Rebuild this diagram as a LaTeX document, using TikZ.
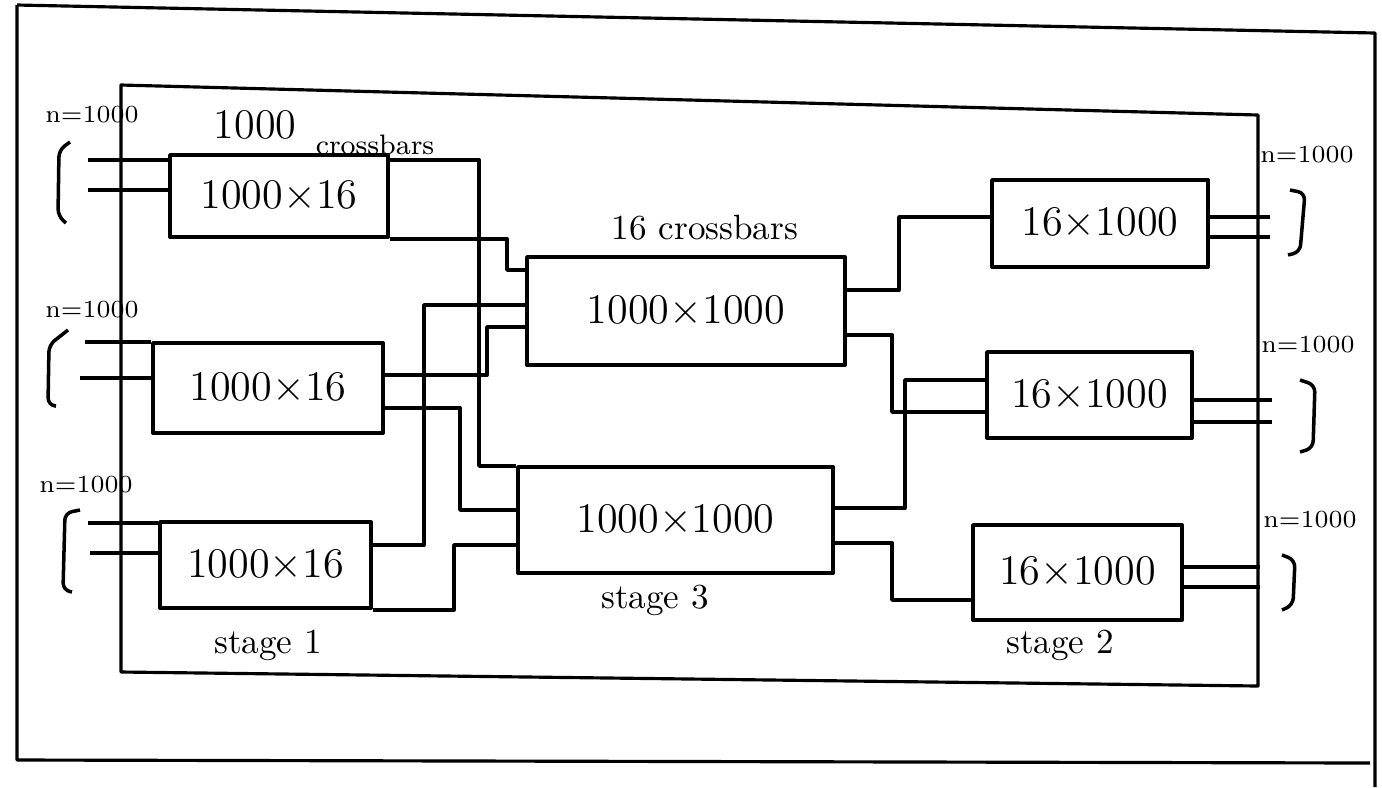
\documentclass[tikz,border=0pt]{standalone}
\usepackage{amsmath,amssymb}
\usepackage{xcolor}
\usepackage{tikz}
\usetikzlibrary{arrows.meta}

\tikzset{
  xbar/.style={draw,line width=1.1pt,inner sep=0pt,font=\large},
  wire/.style={line width=1pt},
  frame/.style={line width=0.9pt},
  nlab/.style={font=\scriptsize,inner sep=1pt},
}

\begin{document}
\begin{tikzpicture}[line join=round]
  \useasboundingbox (0,0) rectangle (13.82,-7.87);
  \draw[frame] (0.17,-0.05) -- (13.75,-0.33) -- (13.75,-7.87);
  \draw[frame] (0.17,-0.05) -- (0.17,-7.60) -- (13.70,-7.63);
  \draw[frame] (1.21,-0.85) -- (12.58,-1.15) -- (12.58,-6.86) -- (1.21,-6.72) -- cycle;

  \node[xbar,minimum width=2.18cm,minimum height=0.82cm] (a1) at (2.79,-1.96) {1000$\times$16};
  \node[xbar,minimum width=2.30cm,minimum height=0.90cm] (a2) at (2.68,-3.88) {1000$\times$16};
  \node[xbar,minimum width=2.11cm,minimum height=0.86cm] (a3) at (2.655,-5.65) {1000$\times$16};
  \node[xbar,minimum width=3.18cm,minimum height=1.08cm] (b1) at (6.86,-3.11) {1000$\times$1000};
  \node[xbar,minimum width=3.15cm,minimum height=1.06cm] (b2) at (6.755,-5.20) {1000$\times$1000};
  \node[xbar,minimum width=2.16cm,minimum height=0.87cm] (c1) at (11.00,-2.235) {16$\times$1000};
  \node[xbar,minimum width=2.05cm,minimum height=0.86cm] (c2) at (10.895,-3.95) {16$\times$1000};
  \node[xbar,minimum width=2.09cm,minimum height=0.95cm] (c3) at (10.775,-5.725) {16$\times$1000};

  \node[font=\large] (top1) at (2.55,-1.25) {1000};
  \node[font=\footnotesize] (top2) at (3.75,-1.45) {crossbars};
  \node (top3) at (7.05,-2.28) {16 crossbars};
  \node (st1) at (2.68,-6.45) {stage 1};
  \node (st3) at (6.55,-6.00) {stage 3};
  \node (st2) at (10.60,-6.45) {stage 2};

  \node[nlab] (n1) at (0.92,-1.15) {n=1000};
  \node[nlab] (n2) at (0.92,-3.10) {n=1000};
  \node[nlab] (n3) at (0.86,-4.85) {n=1000};
  \node[nlab] (n4) at (13.07,-1.55) {n=1000};
  \node[nlab] (n5) at (13.08,-3.45) {n=1000};
  \node[nlab] (n6) at (13.10,-5.20) {n=1000};

  \draw[wire,rounded corners=2pt] (0.70,-1.42) -- (0.59,-1.50) -- (0.58,-2.16) -- (0.66,-2.23);
  \draw[wire,rounded corners=2pt] (0.68,-3.30) -- (0.49,-3.45) -- (0.48,-4.05) -- (0.56,-4.06);
  \draw[wire,rounded corners=2pt] (0.80,-5.10) -- (0.65,-5.13) -- (0.63,-5.90) -- (0.72,-5.92);
  \draw[wire,rounded corners=2pt] (12.90,-1.90) -- (13.05,-1.93) -- (13.00,-2.52) -- (12.88,-2.55);
  \draw[wire,rounded corners=2pt] (13.00,-3.80) -- (13.15,-3.85) -- (13.13,-4.48) -- (13.00,-4.52);
  \draw[wire,rounded corners=2pt] (12.82,-5.55) -- (12.95,-5.60) -- (12.93,-6.05) -- (12.82,-6.10);

  \coordinate (i1) at (0.88,-1.60);
  \coordinate (i2) at (0.88,-1.90);
  \coordinate (i3) at (0.85,-3.42);
  \coordinate (i4) at (0.80,-3.78);
  \coordinate (i5) at (0.88,-5.23);
  \coordinate (i6) at (0.90,-5.53);
  \coordinate (o1) at (12.70,-2.17);
  \coordinate (o2) at (12.70,-2.37);
  \coordinate (o3) at (12.72,-4.00);
  \coordinate (o4) at (12.72,-4.22);
  \coordinate (o5) at (12.60,-5.67);
  \coordinate (o6) at (12.60,-5.87);

  \draw[wire] (i1) -- (a1.west |- i1);
  \draw[wire] (i2) -- (a1.west |- i2);
  \draw[wire] (i3) -- (a2.west |- i3);
  \draw[wire] (i4) -- (a2.west |- i4);
  \draw[wire] (i5) -- (a3.west |- i5);
  \draw[wire] (i6) -- (a3.west |- i6);
  \draw[wire] (c1.east |- o1) -- (o1);
  \draw[wire] (c1.east |- o2) -- (o2);
  \draw[wire] (c2.east |- o3) -- (o3);
  \draw[wire] (c2.east |- o4) -- (o4);
  \draw[wire] (c3.east |- o5) -- (o5);
  \draw[wire] (c3.east |- o6) -- (o6);

  \draw[wire] (a1.east |- 0,-1.60) -- ++(0.89,0) |- (b2.west |- 0,-4.66);
  \draw[wire] (a1.south east) -- ++(1.17,0) |- (b1.west |- 0,-2.70);
  \draw[wire] (a2.east |- 0,-3.75) -- ++(1.02,0) |- (b1.west |- 0,-3.27);
  \draw[wire] (a2.east |- 0,-4.08) -- ++(0.75,0) |- (b2.west |- 0,-5.10);
  \draw[wire] (a3.east |- 0,-5.45) -- ++(0.51,0) |- (b1.west |- 0,-3.05);
  \draw[wire] (a3.south east) -- ++(0.81,0) |- (b2.west |- 0,-5.45);
  \draw[wire] (b1.east |- 0,-2.90) -- ++(0.52,0) |- (c1.west |- 0,-2.17);
  \draw[wire] (b1.east |- 0,-3.35) -- ++(0.45,0) |- (c2.west |- 0,-4.12);
  \draw[wire] (b2.east |- 0,-5.08) -- ++(0.70,0) |- (c2.west |- 0,-3.80);
  \draw[wire] (b2.east |- 0,-5.43) -- ++(0.57,0) |- (c3.west |- 0,-6.00);
\end{tikzpicture}
\end{document}
